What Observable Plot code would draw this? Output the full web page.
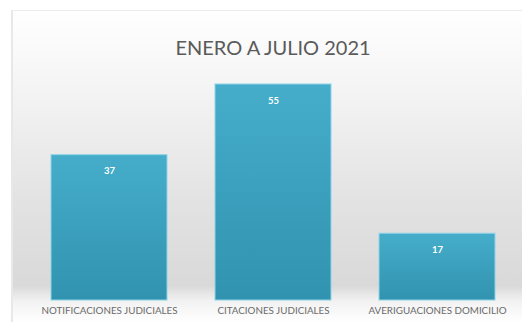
<!DOCTYPE html>
<html>
<head>
<meta charset="utf-8">
<script src="https://cdn.jsdelivr.net/npm/d3@7"></script>
<script src="https://cdn.jsdelivr.net/npm/@observablehq/plot@0.6"></script>
<style>
  html, body { margin: 0; padding: 0; background: #ffffff; }
  #wrap { position: relative; width: 522px; height: 322px; overflow: hidden; }
  #bg { position: absolute; left: 11px; top: 10px; width: 511px; height: 312px;
        background: linear-gradient(to bottom, #ffffff 0%, #f4f4f4 25%, #e3e3e3 60%, #d9d9d9 88%, #f2f2f2 93%, #ffffff 100%);
        border-left: 2px solid #e8e8e8; border-top: 1px solid #ececec; }
  #chart { position: absolute; left: 0; top: 0; }
  #chart svg { background: transparent !important; }
</style>
</head>
<body>
<div id="wrap"><div id="bg"></div><div id="chart"></div></div>
<script>
const title = "ENERO A JULIO 2021";
const categories = ["NOTIFICACIONES JUDICIALES", "CITACIONES JUDICIALES", "AVERIGUACIONES DOMICILIO"];
const values = [37, 55, 17];

const data = categories.map((c, i) => ({category: c, value: values[i]}));

const defs = () => {
  const d = d3.create("svg:defs");
  const g = d.append("linearGradient").attr("id", "barGrad").attr("x1", 0).attr("y1", 0).attr("x2", 0).attr("y2", 1);
  g.append("stop").attr("offset", "0%").attr("stop-color", "#45adca");
  g.append("stop").attr("offset", "100%").attr("stop-color", "#3193b0");
  return d.node();
};

const chart = Plot.plot({
  width: 522,
  height: 322,
  marginLeft: 50,
  marginRight: 27,
  marginTop: 84,
  marginBottom: 22,
  style: {background: "transparent", fontFamily: "Lato, 'Open Sans', sans-serif"},
  x: {domain: categories, paddingInner: 0.295, paddingOuter: 0, label: null, tickSize: 0, tickPadding: 7},
  y: {domain: [0, 55], axis: null},
  marks: [
    defs,
    Plot.barY(data, {x: "category", y: "value", fill: "url(#barGrad)", stroke: "#8fd3e6", strokeWidth: 1}),
    Plot.text(data, {x: "category", y: "value", text: d => String(d.value), dy: 16, fill: "white", fontWeight: "bold", fontSize: 9.5}),
    Plot.axisX({tickSize: 0, tickPadding: 7, fontSize: 9.8, color: "#6a6a6a", label: null}),
    Plot.text([title], {frameAnchor: "top", dy: -44, text: d => d, fontSize: 20, fill: "#5a5a5a"})
  ]
});
document.getElementById("chart").appendChild(chart);
</script>
</body>
</html>
